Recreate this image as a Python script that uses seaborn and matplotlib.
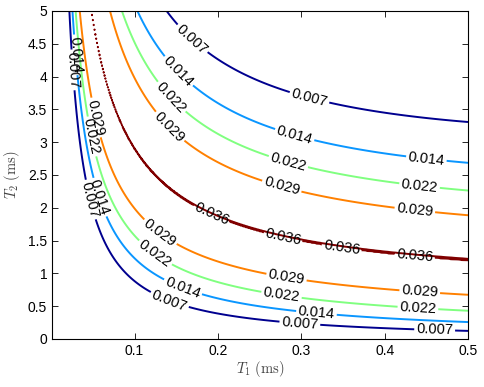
import numpy as np
import matplotlib
matplotlib.use("Agg")
import matplotlib.pyplot as plt
import seaborn as sns

# contour levels and their line colours (jet-like, low -> high)
levels = [0.0072, 0.0144, 0.0216, 0.0288, 0.0360]
level_colors = ["#00008f", "#0a96ff", "#80ff80", "#ff8000", "#800000"]

x_ticks = [0.1, 0.2, 0.3, 0.4, 0.5]
y_ticks = [0, 0.5, 1, 1.5, 2, 2.5, 3, 3.5, 4, 4.5, 5]

# ridge of the surface: T2 = r0 + r1 * T1**(-r2)
ridge = [0.7, 0.264, 0.92]
# ridge height: 0.036 * (1 + e0 * (2*T1)**e1), only just above the top level
peak = [0.036, 1e-4, 1.6]

# fall-off either side of the ridge (in ln T2): ln w = a + b*ln(2*T1), p = c + d*ln(2*T1)
upper_w = [-0.180, 0.22]
upper_p = [2.45, 0.0]
lower_w = [0.49, 0.37]
lower_p = [1.44, -0.17]

# where the inline labels sit
label_spots = [
    (0.168, 4.56), (0.31, 3.69),
    (0.146, 4.0), (0.292, 3.11), (0.45, 2.74),
    (0.14, 3.64), (0.284, 2.68), (0.442, 2.35),
    (0.136, 3.16), (0.276, 2.30), (0.436, 1.94),
    (0.192, 1.89), (0.278, 1.53), (0.348, 1.38), (0.436, 1.25),
    (0.282, 0.92), (0.442, 0.70), (0.132, 1.65), (0.055, 3.38),
    (0.276, 0.645), (0.44, 0.49), (0.128, 1.37), (0.050, 3.09),
    (0.318, 0.366), (0.158, 0.79), (0.058, 2.16), (0.0276, 4.33),
    (0.298, 0.19), (0.46, 0.137), (0.141, 0.56), (0.0457, 2.12), (0.024, 4.1),
]

# surface on a regular grid
t1 = np.linspace(0.001, 0.5, 500)
t2 = np.linspace(0.001, 5, 400)
T1, T2 = np.meshgrid(t1, t2)
lx = np.log(2 * T1)
d = np.log(T2) - np.log(ridge[0] + ridge[1] * T1 ** (-ridge[2]))
up = d > 0
w = np.where(up, np.exp(upper_w[0] + upper_w[1] * lx), np.exp(lower_w[0] + lower_w[1] * lx))
p = np.where(up, upper_p[0] + upper_p[1] * lx, lower_p[0] + lower_p[1] * lx)
top = peak[0] * (1 + peak[1] * np.exp(peak[2] * lx))
Z = top * np.exp(-(np.abs(d) / w) ** p)

sns.set_style("ticks")
plt.rcParams["font.family"] = ["Liberation Sans", "DejaVu Sans"]
plt.rcParams["mathtext.fontset"] = "cm"

fig = plt.figure(figsize=(4.85, 3.87), dpi=100)
ax = fig.add_axes([52 / 485, 1 - 339 / 387, 416 / 485, 328 / 387])

cs = ax.contour(T1, T2, Z, levels=levels, colors=level_colors, linewidths=1.4)
ax.clabel(cs, fmt="%.3f", fontsize=10.5, inline=True, inline_spacing=2,
          manual=label_spots, colors="black")

ax.set_xlim(0.001, 0.5)
ax.set_ylim(0, 5)
ax.set_xticks(x_ticks)
ax.set_xticklabels([f"{v:g}" for v in x_ticks])
ax.set_yticks(y_ticks)
ax.set_yticklabels([f"{v:g}" for v in y_ticks])
ax.tick_params(direction="in", top=True, right=True, length=4, width=0.6,
               labelsize=10, colors="black")
for s in ax.spines.values():
    s.set_linewidth(0.8)
    s.set_color("black")

ax.set_xlabel(r"$T_1\ \mathrm{(ms)}$", fontsize=10.5, color="#444444", labelpad=1)
ax.set_ylabel(r"$T_2\ \mathrm{(ms)}$", fontsize=10.5, color="#444444", labelpad=4)

fig.savefig("out.png", dpi=100, facecolor="white")
